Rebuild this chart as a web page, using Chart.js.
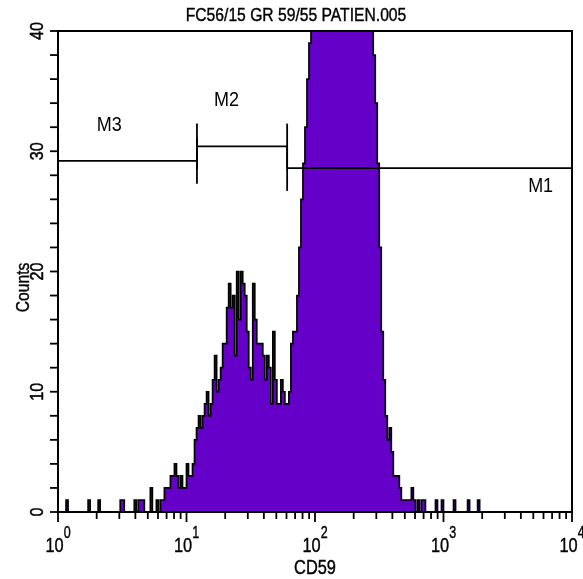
<!DOCTYPE html>
<html><head><meta charset="utf-8">
<script src="https://cdn.jsdelivr.net/npm/chart.js@4"></script>
<style>html,body{margin:0;padding:0;background:#fff}</style>
</head><body>
<canvas id="c" width="583" height="579"></canvas>
<script>
// ---- data ----
const titleText = 'FC56/15 GR 59/55 PATIEN.005';
const xAxisTitle = 'CD59';
const yAxisTitle = 'Counts';
const channelsPerDecade = 64;          // 256 channels over 4 decades
const counts = [
  0,0,0,0,1,0,0,0,0,0,0,0,0,0,0,1,
  0,0,0,0,1,0,0,0,0,0,0,0,0,0,0,1,
  1,0,0,0,0,0,1,0,1,1,1,0,0,0,2,0,
  0,1,0,1,1,2,2,2,3,3,4,3,2,3,2,2,
  4,3,3,4,6,7,8,7,8,9,10,8,9,11,13,10,
  11,12,14,14,17,19,17,18,13,20,16,20,19,18,15,12,
  11,19,16,14,14,14,13,11,13,12,9,15,11,9,9,11,
  10,9,9,10,14,15,15,18,22,26,29,32,36,39,40,40,
  40,40,40,40,40,40,40,40,40,40,40,40,40,40,40,40,
  40,40,40,40,40,40,40,40,40,40,40,40,40,38,34,29,
  22,15,11,8,6,7,5,3,3,3,2,1,1,1,1,1,
  2,1,0,1,0,1,1,0,0,0,0,0,1,0,0,1,
  0,0,0,0,0,1,0,0,0,0,0,0,1,0,0,0,
  0,1,0,0,0,0,0,0,0,0,0,0,0,0,0,0,
  0,0,0,0,0,0,0,0,0,0,0,0,0,0,0,0,
  0,0,0,0,0,0,0,0,0,0,0,0,0,0,0,0
];
const yTickValues = [0,10,20,30,40];
const yMinorStep = 2;
const xTickExponents = [0,1,2,3,4];
const markerNames = ['M1','M2','M3'];
const markerStart = [60.7, 12.06, 1];
const markerEnd   = [10000, 60.7, 12.06];
const markerLevel = [28.6, 30.4, 29.2];

// ---- layout of marker labels (data coords) ----
const markerLabelPos = { M1: [5700, 26.6], M2: [20.5, 33.8], M3: [2.5, 31.7] };

const points = counts.map((c, i) => ({ x: Math.pow(10, i / channelsPerDecade), y: c }));
points.push({ x: Math.pow(10, counts.length / channelsPerDecade), y: 0 });

const FONT = '"Liberation Sans", Arial, Helvetica, sans-serif';
function txt(ctx, s, x, y, size, sx, align, rot, heavy) {
  ctx.save();
  ctx.translate(x, y);
  if (rot) ctx.rotate(rot);
  ctx.scale(sx, 1);
  ctx.font = size + 'px ' + FONT;
  ctx.textAlign = align || 'center';
  ctx.textBaseline = 'alphabetic';
  ctx.fillStyle = '#000';
  ctx.fillText(s, 0, 0);
  if (heavy) { ctx.strokeStyle = '#000'; ctx.lineWidth = heavy; ctx.strokeText(s, 0, 0); }
  ctx.restore();
}
function tw(ctx, s, size, sx) { ctx.save(); ctx.font = size + 'px ' + FONT; const w = ctx.measureText(s).width * sx; ctx.restore(); return w; }

const framePlugin = {
  id: 'frame',
  afterDraw(chart) {
    const ctx = chart.ctx, a = chart.chartArea, xs = chart.scales.x, ys = chart.scales.y;
    ctx.save();
    ctx.strokeStyle = '#000';
    ctx.lineWidth = 2;
    ctx.strokeRect(a.left, a.top, a.right - a.left, a.bottom - a.top);

    // y ticks
    ctx.lineWidth = 1.8;
    for (let v = ys.min; v <= ys.max; v += yMinorStep) {
      const py = ys.getPixelForValue(v);
      ctx.beginPath(); ctx.moveTo(a.left - 8, py); ctx.lineTo(a.left, py); ctx.stroke();
    }
    // x ticks
    for (let e = 0; e < 4; e++) {
      for (let m = 1; m <= 9; m++) {
        const px = xs.getPixelForValue(m * Math.pow(10, e));
        const len = m === 1 ? 10 : 7;
        ctx.beginPath(); ctx.moveTo(px, a.bottom); ctx.lineTo(px, a.bottom + len); ctx.stroke();
      }
    }
    { const px = xs.getPixelForValue(10000);
      ctx.beginPath(); ctx.moveTo(px, a.bottom); ctx.lineTo(px, a.bottom + 10); ctx.stroke(); }

    // y tick labels (rotated)
    yTickValues.forEach(v => {
      txt(ctx, String(v), a.left - 15, ys.getPixelForValue(v), 19, 0.85, 'center', -Math.PI / 2, 0.5);
    });
    // x tick labels 10^k
    xTickExponents.forEach(k => {
      const px = xs.getPixelForValue(Math.pow(10, k));
      const w1 = tw(ctx, '10', 21, 0.78), w2 = tw(ctx, String(k), 16, 0.78);
      const x0 = px - (w1 + w2) / 2;
      txt(ctx, '10', x0, a.bottom + 40, 21, 0.78, 'left', 0, 0.4);
      txt(ctx, String(k), x0 + w1, a.bottom + 26, 16, 0.78, 'left', 0, 0.4);
    });
    // axis titles
    txt(ctx, xAxisTitle, (a.left + a.right) / 2, 574, 20, 0.82, 'center', 0, 0.4);
    txt(ctx, yAxisTitle, 29, (a.top + a.bottom) / 2 + 16, 18, 0.87, 'center', -Math.PI / 2, 0.4);
    // title
    txt(ctx, titleText, 296, 21, 18, 0.87, 'center', 0, 0.4);

    // markers
    ctx.lineWidth = 1.8;
    const half = 1.9;
    markerNames.forEach((name, i) => {
      const x1 = xs.getPixelForValue(markerStart[i]), x2 = xs.getPixelForValue(markerEnd[i]);
      const py = ys.getPixelForValue(markerLevel[i]);
      ctx.beginPath(); ctx.moveTo(x1, py); ctx.lineTo(x2, py); ctx.stroke();
      [markerStart[i], markerEnd[i]].forEach(v => {
        if (v <= xs.min || v >= xs.max) return;
        const px = xs.getPixelForValue(v);
        ctx.beginPath();
        ctx.moveTo(px, ys.getPixelForValue(markerLevel[i] - half));
        ctx.lineTo(px, ys.getPixelForValue(markerLevel[i] + half));
        ctx.stroke();
      });
      const lp = markerLabelPos[name];
      txt(ctx, name, xs.getPixelForValue(lp[0]), ys.getPixelForValue(lp[1]), 20, 0.9, 'center');
    });
    ctx.restore();
  }
};

new Chart(document.getElementById('c').getContext('2d'), {
  type: 'line',
  data: { datasets: [{
    data: points, stepped: true, fill: 'origin',
    backgroundColor: '#6400c8', borderColor: '#000', borderWidth: 1.7,
    pointRadius: 0, tension: 0
  }]},
  options: {
    responsive: false, animation: false,
    layout: { padding: { top: 31, right: 11, left: 0, bottom: 0 } },
    plugins: { legend: { display: false }, tooltip: { enabled: false }, title: { display: false } },
    scales: {
      x: { type: 'logarithmic', min: 1, max: 10000,
           grid: { display: false }, ticks: { display: false }, border: { display: false },
           afterFit: s => { s.height = 67; } },
      y: { type: 'linear', min: 0, max: 40,
           grid: { display: false }, ticks: { display: false }, border: { display: false },
           afterFit: s => { s.width = 58; } }
    }
  },
  plugins: [framePlugin]
});
</script>
</body></html>
